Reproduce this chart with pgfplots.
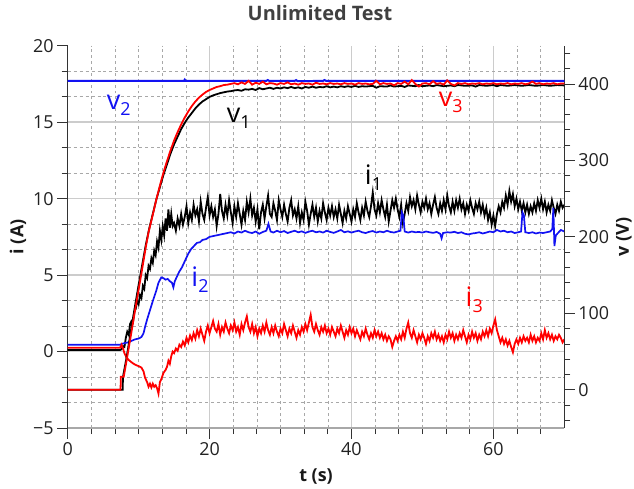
\documentclass[border=0pt]{standalone}
\usepackage{fontspec}
\setmainfont{Open Sans}
\usepackage{pgfplots}
\pgfplotsset{compat=1.18}
\definecolor{gridmaj}{HTML}{CCCCCC}
\definecolor{gridmin}{HTML}{A8A8A8}
\definecolor{axcol}{HTML}{333333}
\definecolor{myblue}{HTML}{1212F2}
\definecolor{myred}{HTML}{FF0000}
\definecolor{titlecol}{HTML}{404040}
\newcommand{\lab}[2]{#1\raisebox{-0.22em}{\fontsize{18}{18}\selectfont #2}}
\begin{document}
\begin{tikzpicture}
\pgfplotsset{every axis/.append style={
  scale only axis, width=497bp, height=382.6bp, xmin=0, xmax=70,
  tick label style={font=\fontsize{18}{20}\selectfont, text=black!87},
  /pgf/number format/assume math mode=true,
  tick align=outside, major tick length=10.5bp, minor tick length=6bp,
  every tick/.style={axcol, line width=0.8bp},
  every minor tick/.style={axcol, line width=0.8bp},
  label style={font=\fontsize{18}{20}\selectfont\bfseries, text=black!90},
}}
\begin{axis}[
  name=ax,
  ymin=-5, ymax=20,
  axis x line*=bottom, axis y line*=left,
  x axis line style={-, gridmin, line width=1.6bp},
  y axis line style={-, axcol, line width=0.8bp},
  xtick={0,20,40,60},
  minor xtick={3.333,6.667,10,13.333,16.667,23.333,26.667,30,33.333,36.667,43.333,46.667,50,53.333,56.667,63.333,66.667},
  ytick={-5,0,5,10,15}, yticklabels={−5,0,5,10,15},
  extra y ticks={20}, extra y tick style={grid=none}, extra y tick labels={20},
  minor ytick={-3.333,-1.667,1.667,3.333,6.667,8.333,11.667,13.333,16.667,18.333},
  grid=both,
  major grid style={gridmaj, line width=1.4bp},
  minor grid style={gridmin, dashed, line width=0.6bp},
  xlabel={t (s)}, ylabel={i (A)},
  xlabel style={at={(axis description cs:0.5,-0.126)}, anchor=center},
  ylabel style={at={(axis description cs:-0.1,0.5)}, anchor=center},
  title={Unlimited Test},
  title style={font=\fontsize{20}{22}\selectfont\bfseries, text=titlecol, anchor=base, at={(0.5,1)}, yshift=19.7bp, xshift=4bp},
]
% i1 black
\addplot[black, line width=1.8bp] coordinates {
(0,0.1)(7.4,0.1)(7.6,0.15)(7.8,0.35)(8.0,0.3)(8.2,0.9)(8.4,1.3)(8.6,1.1)(8.8,1.8)(9.0,2.0)(9.2,1.9)(9.4,2.6)(9.6,2.8)(9.8,3.3)(10.0,3.1)(10.2,3.7)(10.4,3.5)(10.6,4.3)(10.8,4.1)(11.0,5.0)(11.2,4.8)(11.4,5.6)(11.6,5.4)(11.8,6.1)(12.0,5.8)(12.2,6.6)(12.4,6.3)(12.6,7.2)(12.8,6.8)(13.0,7.9)(13.2,7.3)(13.4,8.2)(13.6,7.6)(13.8,8.7)(14.0,7.9)(14.2,9.3)(14.4,8.1)(14.6,9.0)(14.8,8.2)
(15.0,8.4)(15.25,7.9)(15.5,8.7)(15.75,8.2)(16.0,9.0)(16.25,8.3)(16.5,8.8)(16.75,9.5)(17.0,8.4)(17.25,9.1)(17.5,8.6)(17.75,9.6)(18.0,8.9)(18.25,9.3)(18.5,8.5)(18.75,9.8)(19.0,9.0)(19.25,8.6)(19.5,9.4)(19.75,10.1)(20.0,8.9)
(20.25,9.5)(20.5,8.8)(20.75,9.3)(21.0,8.2)(21.25,9.0)(21.5,10.3)(21.75,9.2)(22.0,8.7)(22.25,9.6)(22.5,8.9)(22.75,9.9)(23.0,9.1)(23.25,8.4)(23.5,9.5)(23.75,8.8)(24.0,9.7)(24.25,9.0)(24.5,8.3)(24.75,9.2)(25.0,8.6)(25.25,9.8)(25.5,9.1)(25.75,10.0)(26.0,8.9)(26.25,9.4)(26.5,8.5)(26.75,9.3)(27.0,8.0)(27.25,9.1)(27.5,9.6)(27.75,8.7)(28.0,9.5)(28.25,10.2)(28.5,9.0)(28.75,8.8)(29.0,9.7)(29.25,9.2)(29.5,8.6)(29.75,9.9)(30.0,9.3)
(30.25,8.8)(30.5,9.6)(30.75,9.0)(31.0,8.5)(31.25,9.4)(31.5,9.9)(31.75,8.9)(32.0,9.3)(32.25,8.7)(32.5,9.5)(32.75,8.4)(33.0,9.1)(33.25,8.6)(33.5,9.8)(33.75,9.2)(34.0,8.3)(34.25,9.0)(34.5,9.6)(34.75,8.8)(35.0,9.4)(35.25,8.5)(35.5,9.2)(35.75,8.7)(36.0,9.7)(36.25,9.1)(36.5,8.6)(36.75,9.4)(37.0,8.9)(37.25,9.5)(37.5,8.8)(37.75,9.3)(38.0,8.7)(38.25,9.6)(38.5,9.0)(38.75,8.4)(39.0,9.2)(39.25,8.7)(39.5,9.5)(39.75,9.0)(40.0,8.5)
(40.25,9.3)(40.5,8.8)(40.75,9.7)(41.0,9.1)(41.25,8.6)(41.5,9.4)(41.75,8.9)(42.0,9.8)(42.25,9.2)(42.5,8.8)(42.75,9.5)(43.0,10.4)(43.25,9.3)(43.5,8.9)(43.75,9.7)(44.0,9.1)(44.25,9.9)(44.5,9.3)(44.75,8.8)(45.0,9.6)(45.25,8.5)(45.5,9.2)(45.75,9.9)(46.0,9.4)(46.25,10.0)(46.5,9.3)(46.75,8.8)(47.0,9.6)(47.25,8.4)(47.5,9.0)(47.75,9.7)(48.0,9.2)(48.25,10.1)(48.5,9.5)(48.75,9.9)(49.0,9.3)(49.25,10.2)(49.5,9.6)(49.75,9.1)(50.0,9.8)
(50.25,9.4)(50.5,10.0)(50.75,9.3)(51.0,9.7)(51.25,9.0)(51.5,9.6)(51.75,10.1)(52.0,9.4)(52.25,9.0)(52.5,9.7)(52.75,9.2)(53.0,9.9)(53.25,9.3)(53.5,10.2)(53.75,9.5)(54.0,9.1)(54.25,9.8)(54.5,9.2)(54.75,9.9)(55.0,9.4)(55.25,10.0)(55.5,9.3)(55.75,9.7)(56.0,9.0)(56.25,9.6)(56.5,9.2)(56.75,9.9)(57.0,9.4)(57.25,9.0)(57.5,9.7)(57.75,9.3)(58.0,9.8)(58.25,9.1)(58.5,9.6)(58.75,8.9)(59.0,9.4)(59.25,8.6)(59.5,9.1)(59.75,8.3)(60.0,8.9)
(60.25,8.2)(60.5,9.0)(60.75,9.5)(61.0,9.1)(61.25,9.8)(61.5,9.4)(61.75,10.2)(62.0,9.6)(62.25,10.5)(62.5,9.8)(62.75,10.3)(63.0,9.5)(63.25,10.0)(63.5,9.3)(63.75,9.8)(64.0,9.2)(64.25,9.7)(64.5,9.1)(64.75,9.6)(65.0,9.0)(65.25,9.5)(65.5,9.1)(65.75,9.7)(66.0,9.2)(66.25,9.9)(66.5,9.4)(66.75,10.0)(67.0,9.3)(67.25,9.8)(67.5,9.1)(67.75,9.6)(68.0,9.2)(68.25,9.9)(68.5,9.4)(68.75,9.0)(69.0,9.6)(69.25,9.2)(69.5,9.8)(69.75,9.4)(70.0,9.6)
};
% i2 blue
\addplot[myblue, line width=1.7bp] coordinates {
(0,0.45)(7.4,0.45)(7.6,0.5)(8,0.55)(8.5,0.6)(9,0.7)(9.5,0.8)(10,0.85)(10.4,0.95)(10.7,1.2)(10.9,1.6)(11.2,2.1)(11.6,2.7)(12,3.3)(12.5,4.0)(12.8,4.5)(13.2,4.85)(13.5,4.8)(13.8,4.7)(14.1,4.75)(14.4,4.6)(14.7,4.5)(14.9,4.2)(15.1,4.6)(15.4,4.9)(15.7,5.2)(16.1,5.5)(16.5,5.9)(17,6.4)(17.4,6.7)(17.8,6.9)(18.2,7.1)(18.65,7.15)(19,7.3)(19.5,7.35)(20,7.5)(20.5,7.55)(21,7.6)(21.5,7.65)(22,7.7)(22.5,7.75)
(23,7.8)(23.5,7.72)(24,7.85)(24.5,7.78)(25,7.9)(25.5,7.8)(26,7.75)(26.5,7.85)(27,7.7)(27.5,7.82)(28,7.9)(28.3,8.35)(28.6,7.85)(29,7.78)(29.5,7.9)(30,7.8)(30.5,7.88)(31,7.75)(31.5,7.83)(32,7.9)(32.5,7.8)(33,7.86)(33.5,7.76)(34,7.84)(34.5,7.9)(35,7.8)(35.5,7.85)(36,7.78)(36.5,7.9)(37,7.82)(37.5,7.76)(38,7.85)(38.5,7.95)(39,7.8)(39.5,7.86)(40,7.78)(40.5,7.85)(41,7.9)(41.5,7.8)(42,7.75)(42.5,7.83)(43,7.88)(43.5,7.78)(44,7.85)(44.5,7.8)(45,7.9)(45.5,7.82)(46,7.78)(46.5,7.85)(46.9,7.9)(47.1,9.1)(47.3,8.9)(47.5,7.85)(48,7.78)(48.5,7.85)(49,7.8)(49.5,7.82)(50,7.78)(50.5,7.85)(51,7.8)(51.5,7.76)(52,7.82)(52.5,7.7)(52.7,7.4)(52.9,7.75)(53.5,7.8)(54,7.78)(54.5,7.83)(55,7.75)(55.5,7.8)(56,7.7)(56.5,7.66)(57,7.72)(57.5,7.75)(58,7.8)(58.5,7.72)(59,7.78)(59.5,7.85)(60,7.8)(60.5,7.95)(61,7.85)(61.5,7.9)(62,7.8)(62.5,7.85)(63,7.75)(63.5,7.8)(63.9,7.85)(64.1,9.1)(64.3,8.9)(64.5,7.8)(65,7.75)(65.5,7.8)(66,7.72)(66.5,7.78)(67,7.75)(67.5,7.8)(68,7.85)(68.3,8.0)(68.45,9.4)(68.6,6.9)(68.8,7.6)(69.2,7.8)(69.5,7.95)(70,7.85)
};
% i3 red
\addplot[myred, line width=1.8bp] coordinates {
(0,0.25)(7.4,0.25)(7.6,0.45)(7.8,0.2)(8.0,-0.1)(8.3,-0.4)(8.6,-0.55)(9.0,-0.7)(9.3,-0.8)(9.7,-0.9)(10.0,-0.95)(10.4,-1.05)(10.7,-1.3)(10.9,-1.7)(11.2,-2.0)(11.4,-2.3)(11.6,-2.1)(11.8,-2.35)(12.0,-2.1)(12.2,-2.3)(12.4,-2.2)(12.6,-2.4)(12.8,-2.75)(13.0,-2.0)(13.2,-1.8)(13.5,-1.4)(13.8,-1.2)(14.0,-1.0)(14.2,-0.6)(14.4,-0.8)(14.6,-0.3)(14.8,0.0)(15.0,-0.1)
(15.25,0.2)(15.5,0.05)(15.75,0.45)(16.0,0.3)(16.25,0.65)(16.5,0.4)(16.75,0.9)(17.0,0.6)(17.25,1.05)(17.5,0.75)(17.75,1.2)(18.0,0.85)(18.25,1.4)(18.5,1.0)(18.75,1.5)(19.0,1.1)(19.25,0.7)(19.5,1.3)(19.75,1.7)(20.0,1.2)
(20.25,1.6)(20.5,2.0)(20.75,1.5)(21.0,1.3)(21.25,1.8)(21.5,1.1)(21.75,1.6)(22.0,1.3)(22.25,1.9)(22.5,1.5)(22.75,1.2)(23.0,1.7)(23.25,1.4)(23.5,1.9)(23.75,1.3)(24.0,1.6)(24.25,1.1)(24.5,1.8)(24.75,1.4)(25.0,1.9)(25.25,2.3)(25.5,1.6)(25.75,1.3)(26.0,1.8)(26.25,1.2)(26.5,1.6)(26.75,1.0)(27.0,1.5)(27.25,1.2)(27.5,1.7)(27.75,1.3)(28.0,1.9)(28.25,1.4)(28.5,1.1)(28.75,1.6)(29.0,1.2)(29.25,1.7)(29.5,1.3)(29.75,1.0)(30.0,1.5)
(30.25,1.2)(30.5,1.8)(30.75,1.4)(31.0,1.0)(31.25,1.5)(31.5,1.2)(31.75,1.7)(32.0,1.3)(32.25,0.9)(32.5,1.4)(32.75,1.1)(33.0,1.6)(33.25,1.3)(33.5,1.8)(33.75,1.4)(34.0,1.9)(34.25,2.4)(34.5,1.6)(34.75,1.3)(35.0,1.8)(35.25,1.4)(35.5,1.1)(35.75,1.6)(36.0,1.3)(36.25,1.7)(36.5,1.2)(36.75,1.5)(37.0,1.1)(37.25,1.6)(37.5,1.3)(37.75,1.0)(38.0,1.5)(38.25,1.2)(38.5,1.7)(38.75,1.3)(39.0,0.9)(39.25,1.4)(39.5,1.1)(39.75,1.6)(40.0,1.2)
(40.25,1.5)(40.5,1.0)(40.75,1.4)(41.0,1.1)(41.25,0.8)(41.5,1.3)(41.75,1.0)(42.0,1.5)(42.25,1.1)(42.5,0.8)(42.75,1.2)(43.0,0.9)(43.25,1.4)(43.5,1.0)(43.75,1.3)(44.0,0.9)(44.25,1.2)(44.5,0.8)(44.75,1.1)(45.0,0.7)(45.25,1.0)(45.5,0.8)(45.75,0.3)(46.0,0.7)(46.25,1.0)(46.5,0.7)(46.75,1.1)(47.0,0.8)(47.25,1.3)(47.5,0.9)(47.75,1.5)(48.0,1.9)(48.25,1.2)(48.5,0.9)(48.75,1.4)(49.0,1.0)(49.25,0.6)(49.5,1.1)(49.75,0.8)(50.0,1.2)
(50.25,0.9)(50.5,0.5)(50.75,1.0)(51.0,0.7)(51.25,1.2)(51.5,0.9)(51.75,1.3)(52.0,0.8)(52.25,1.1)(52.5,0.7)(52.75,1.0)(53.0,0.6)(53.25,1.1)(53.5,0.8)(53.75,1.3)(54.0,0.9)(54.25,1.2)(54.5,0.7)(54.75,1.1)(55.0,0.8)(55.25,1.2)(55.5,0.9)(55.75,1.4)(56.0,1.0)(56.25,0.6)(56.5,1.1)(56.75,0.8)(57.0,1.3)(57.25,0.9)(57.5,1.2)(57.75,0.7)(58.0,1.1)(58.25,0.8)(58.5,1.3)(58.75,1.0)(59.0,1.4)(59.25,1.0)(59.5,1.5)(59.75,1.2)(60.0,1.7)
(60.25,2.1)(60.5,1.4)(60.75,1.0)(61.0,0.6)(61.25,0.9)(61.5,0.5)(61.75,0.8)(62.0,0.4)(62.25,0.7)(62.5,0.3)(62.75,-0.05)(63.0,0.5)(63.25,0.8)(63.5,0.5)(63.75,0.9)(64.0,0.6)(64.25,1.0)(64.5,0.7)(64.75,0.9)(65.0,0.6)(65.25,1.1)(65.5,0.7)(65.75,1.0)(66.0,0.6)(66.25,0.9)(66.5,0.7)(66.75,1.2)(67.0,0.8)(67.25,1.4)(67.5,0.9)(67.75,1.2)(68.0,0.8)(68.25,1.1)(68.5,0.7)(68.75,1.0)(69.0,0.8)(69.25,1.1)(69.5,0.9)(69.75,0.6)(70.0,0.8)
};
\node[myblue, font=\fontsize{27}{28}\selectfont] at (axis cs:7.2,16.1) {\lab{v}{2}};
\node[black, font=\fontsize{27}{28}\selectfont] at (axis cs:24.1,15.25) {\lab{v}{1}};
\node[myred, font=\fontsize{27}{28}\selectfont] at (axis cs:54.0,16.3) {\lab{v}{3}};
\node[black, font=\fontsize{27}{28}\selectfont] at (axis cs:43.1,11.35) {\lab{i}{1}};
\node[myblue, font=\fontsize{27}{28}\selectfont] at (axis cs:18.65,4.7) {\lab{i}{2}};
\node[myred, font=\fontsize{27}{28}\selectfont] at (axis cs:57.3,3.4) {\lab{i}{3}};
\end{axis}
\begin{axis}[
  ymin=-50, ymax=450,
  axis x line=none, axis y line*=right,
  y axis line style={-, axcol, line width=0.8bp},
  ytick={0,100,200,300,400},
  minor ytick={-40,-20,20,40,60,80,120,140,160,180,220,240,260,280,320,340,360,380,420,440},
  ylabel={v (V)},
  ylabel style={at={(axis description cs:1.12,0.5)}, anchor=center},
]
% v2 blue
\addplot[myblue, line width=2bp] coordinates {
(0,404)(16.4,404)(16.5,405.5)(16.6,404)(28,404)(28.2,405)(28.4,404)(32,404)(32.2,405)(32.4,403.5)(36,404)(36.2,405)(36.4,404)(70,404)
};
% v1 black
\addplot[black, line width=1.8bp] coordinates {
(0,0)(7.75,0)(7.8,17)(8.3,42)(9,82)(9.5,110)(10,137)(10.5,163)(11,189)(11.5,211)(12,230)(12.5,249)(13,265)(13.5,281)(14,295)(14.5,309)(15,321)(15.5,331)(16,341)(16.5,349)(17,356)(17.5,362)(18,368)(18.5,373)(19,377)(19.5,380)(20,383)(20.5,385)(21,386.5)(21.5,388)(22,389)(22.5,390)(23,390.5)(23.5,391.5)(24,392)(24.5,391)(25,393)(25.5,392.5)(26,393.5)(26.5,392)(27,394.5)(27.5,393)(28,394)(28.5,395)(29,393.5)(29.5,395)(30,394)(30.5,395.5)(31,394.5)(31.5,396)(32,394.5)(32.5,395.5)(33,394)(33.5,396)(34,395)(34.5,396.5)(35,395)(35.5,396)(36,395.5)(36.5,397)(37,395.5)(37.5,396.5)(38,395.5)(38.5,397)(39,396)(39.5,397)(40,396)(40.5,397.5)(41,396)(41.5,397)(42,396.5)(43,397.5)(43.5,395)(44,397)(45,396.5)(45.5,398)(46,396.5)(47,397.5)(47.5,396)(48,398)(49,397)(49.5,398.5)(50,397)(51,398)(51.5,397)(52,398.5)(53,397)(54,398)(54.5,397)(55,398.5)(56,397.5)(57,398)(57.5,396.5)(58,398.5)(59,397.5)(60,398.5)(60.5,397)(61,398.5)(62,397.5)(63,398.5)(64,397.5)(65,398.5)(66,397.5)(67,398.5)(68,397.5)(69,398.5)(70,398)
};
% v3 red
\addplot[myred, line width=1.8bp] coordinates {
(0,0)(7.45,0)(7.5,17)(7.9,17)(8.3,38)(9,76)(9.5,104)(10,131)(10.5,158)(11,186)(11.4,206)(12,229)(12.5,249)(13,267)(13.5,284)(14,299)(14.5,313)(15,326)(15.5,337)(16,347)(16.5,356)(17,364)(17.5,371)(18,377)(18.5,382)(19,386)(19.5,389.5)(20,392)(20.5,394)(21,396)(21.5,397)(22,398.5)(22.5,399)(23,400)(23.5,401)(24,399.5)(24.5,402)(25,400)(25.5,404)(26,399)(26.5,401.5)(27,400)(27.5,403)(28,399.5)(28.5,401)(29,400.5)(29.5,399)(30,401)(30.5,400)(31,402)(31.5,399.5)(32,400.5)(32.5,399)(33,401)(33.5,400)(34,400.5)(34.5,399)(35,401.5)(35.5,400)(36,400.5)(36.5,399.5)(37,401)(37.5,400)(38,400.5)(38.5,399.5)(39,401)(39.5,400)(40,400.5)(40.5,399)(41,401)(41.5,400)(42,400.5)(42.5,399.5)(43,400)(43.5,404)(44,399.5)(44.5,401)(45,400)(45.5,400.5)(46,398)(46.5,401)(47,400)(47.5,403)(48,399.5)(48.5,405)(49,400)(49.5,396.5)(50,400.5)(50.5,401)(51,399.5)(51.5,403.5)(52,400)(52.5,401)(53,399)(53.5,404.5)(54,400)(54.5,398)(55,401)(55.5,400)(56,401)(56.5,399.5)(57,400.5)(57.5,400)(58,401)(58.5,399.5)(59,400.5)(59.5,400)(60,401)(60.5,399.5)(61,400.5)(61.5,400)(62,401)(62.5,399.5)(63,400.5)(63.5,400)(64,401)(64.5,399.5)(65,400.5)(65.5,403)(66,400)(66.5,401)(67,399.5)(67.5,400.5)(68,400)(68.5,401)(69,399.5)(69.5,400.5)(70,400.5)
};
\end{axis}
\pgfresetboundingbox
\path[use as bounding box] ([shift={(-67.7bp,-60.7bp)}]ax.south west) rectangle ([shift={(69.7bp,45.7bp)}]ax.north east);
\end{tikzpicture}
\end{document}
